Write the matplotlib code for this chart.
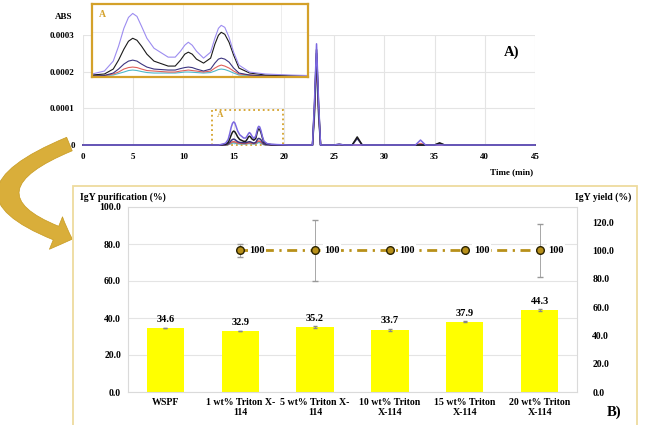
import matplotlib
matplotlib.use("Agg")
import matplotlib.pyplot as plt
from matplotlib.patches import Rectangle, FancyArrowPatch, ArrowStyle
from matplotlib.ticker import FuncFormatter
import numpy as np

plt.rcParams['font.family'] = ['Liberation Serif', 'DejaVu Serif']
plt.rcParams['font.weight'] = 'bold'

# ---- chromatogram data (ABS x 1e-5) ----
time = [0, 13.5, 13.85, 14.2, 14.45, 14.6, 14.75, 14.88, 15.0, 15.12, 15.25, 15.4, 15.6,
        16.0, 16.2, 16.35, 16.47, 16.57, 16.68, 16.8, 17.0, 17.2, 17.32, 17.42, 17.5,
        17.6, 17.72, 17.85, 18.0, 18.3, 18.75, 19.4,
        20.5, 22.85, 23.05, 23.25, 23.45, 23.65, 25.0, 25.5, 26.0, 26.8, 27.3, 27.8,
        33.1, 33.6, 34.1, 35.0, 35.5, 36.0, 45]
abs_purple = [0, 0, 0.2, 0.5, 1.5, 3.0, 4.8, 5.9, 6.3, 6.0, 5.0, 3.8, 2.8,
              1.9, 1.9, 2.5, 3.1, 3.4, 3.1, 2.5, 1.8, 2.4, 3.8, 4.8, 5.1,
              4.9, 3.9, 2.4, 1.1, 0.4, 0.2, 0.1,
              0, 0, 12, 27.6, 12, 0, 0, 0.2, 0, 0, 0, 0,
              0, 1.35, 0, 0, 0, 0, 0]
abs_black = [0, 0, 0.1, 0.2, 0.7, 1.6, 2.7, 3.5, 3.8, 3.6, 3.0, 2.2, 1.5,
             1.0, 1.0, 1.6, 2.2, 2.4, 2.2, 1.7, 1.3, 1.8, 3.2, 4.1, 4.4,
             4.2, 3.4, 2.1, 0.8, 0.3, 0.1, 0.05,
             0, 0, 11, 26, 11, 0, 0, 0.2, 0, 0, 2.2, 0,
             0, 0, 0, 0, 0.6, 0, 0]
abs_navy = [0, 0, 0, 0.05, 0.3, 0.7, 1.2, 1.5, 1.6, 1.5, 1.2, 0.9, 0.7,
            0.6, 0.6, 0.75, 0.85, 0.9, 0.85, 0.7, 0.5, 0.7, 1.3, 1.7, 1.8,
            1.7, 1.4, 0.8, 0.3, 0.1, 0, 0,
            0, 0, 10, 25, 10, 0, 0, 0.1, 0, 0, 1.8, 0,
            0, 0, 0, 0, 0.4, 0, 0]
abs_red = [0, 0, 0, 0.05, 0.2, 0.4, 0.7, 0.85, 0.9, 0.85, 0.7, 0.55, 0.5,
           0.4, 0.4, 0.5, 0.55, 0.6, 0.55, 0.5, 0.4, 0.5, 0.8, 1.0, 1.1,
           1.0, 0.8, 0.5, 0.2, 0.1, 0, 0,
           0, 0, 9, 24, 9, 0, 0, 0.1, 0, 0, 0, 0,
           0, 0.4, 0, 0, 0, 0, 0]
abs_cyan = [0, 0, 0, 0.05, 0.1, 0.25, 0.4, 0.55, 0.6, 0.55, 0.45, 0.35, 0.3,
            0.3, 0.3, 0.35, 0.4, 0.4, 0.38, 0.35, 0.3, 0.35, 0.5, 0.65, 0.7,
            0.65, 0.5, 0.3, 0.1, 0.05, 0, 0,
            0, 0, 8, 23, 8, 0, 0, 0, 0, 0, 0, 0,
            0, 0, 0, 0, 0, 0, 0]

traces = [(abs_cyan, '#4FB8C8'), (abs_red, '#E0605A'), (abs_navy, '#3C3580'),
          (abs_black, '#1A1A1A'), (abs_purple, '#7B68E0')]

# ---- bar / yield data ----
categories = ['WSPF', '1 wt% Triton X-\n114', '5 wt% Triton X-\n114',
              '10 wt% Triton\nX-114', '15 wt% Triton\nX-114', '20 wt% Triton\nX-114']
purification = [34.6, 32.9, 35.2, 33.7, 37.9, 44.3]
purification_err = [0, 0, 0.5, 0.5, 0.3, 0.5]
yield_pct = [100, 100, 100, 100, 100]
yield_err = [4.5, 21.5, 0, 0, 18.5]

W, H = 648, 425
def fx(px):
    return px / W
def fy(py):
    return 1 - py / H

fig = plt.figure(figsize=(6.48, 4.25), dpi=100)
gold = '#D4A12A'

# ---------------- top chromatogram ----------------
ax1 = fig.add_axes([fx(83), fy(145), fx(535) - fx(83), fy(35) - fy(145)])
t = np.array(time)
for vals, col in traces:
    ax1.plot(t, np.array(vals) * 1e-5, color=col, lw=1.1, clip_on=False)
ax1.set_xlim(0, 45)
ax1.set_ylim(0, 0.0003)
ax1.set_xticks(range(0, 46, 5))
ax1.set_yticks([0, 0.0001, 0.0002, 0.0003])
ax1.set_yticklabels(['0', '0.0001', '0.0002', '0.0003'])
ax1.grid(True, color='#E4E4E4', lw=0.8)
ax1.set_axisbelow(True)
for s in ax1.spines.values():
    s.set_visible(False)
ax1.tick_params(length=0, labelsize=6.5, pad=6)
ax1.add_patch(Rectangle((12.85, 0), 7.05, 0.0000945, fill=False, ec=gold,
                        ls=':', lw=1.3, clip_on=False))
ax1.text(13.3, 0.000083, 'A', color=gold, fontsize=6.5, va='center')
fig.text(fx(55), fy(17), 'ABS', fontsize=6.5, va='center')
fig.text(fx(512), fy(172), 'Time (min)', fontsize=6.5, va='center', ha='center')
fig.text(fx(504), fy(52), 'A)', fontsize=10.5, va='center')

# inset
axi = fig.add_axes([fx(92), fy(77), fx(308) - fx(92), fy(4) - fy(77)])
for vals, col in traces:
    c = '#9C8CF0' if col == '#7B68E0' else col
    axi.plot(t, np.array(vals) * 1e-5, color=c, lw=0.8)
axi.set_xlim(13.85, 19.95)
axi.set_ylim(-0.000001, 0.0000725)
axi.set_xticks([16.43, 17.81, 19.2])
axi.set_yticks([0.000044])
axi.grid(True, color='#EDEDED', lw=0.7)
axi.set_axisbelow(True)
axi.tick_params(length=0, labelbottom=False, labelleft=False)
for s in axi.spines.values():
    s.set_color(gold)
    s.set_linewidth(1.6)
axi.text(0.03, 0.85, 'A', color=gold, fontsize=7, transform=axi.transAxes, va='center')

# ---------------- curved arrow ----------------
arrow = FancyArrowPatch((fx(72), fy(143)), (fx(75), fy(240)),
                        connectionstyle='arc3,rad=1.35',
                        arrowstyle=ArrowStyle.Simple(head_length=0.9, head_width=1.8, tail_width=0.75),
                        mutation_scale=14, fc='#D9AE3A', ec='#C79A20', lw=0.5,
                        transform=fig.transFigure)
fig.add_artist(arrow)

# ---------------- bottom panel ----------------
fig.add_artist(Rectangle((fx(73), fy(440)), fx(637) - fx(73), fy(186) - fy(440),
                         fill=False, ec='#EEDB9E', lw=1.3, transform=fig.transFigure,
                         clip_on=False))

ax2 = fig.add_axes([fx(128), fy(392), fx(577) - fx(128), fy(207) - fy(392)])
x = np.arange(len(categories))
ax2.bar(x, purification, width=0.5, color='#FFFF00', zorder=2,
        yerr=purification_err, error_kw=dict(ecolor='#888888', lw=0.6, capsize=1.5))
for xi, v in zip(x, purification):
    ax2.text(xi, v + 2.3, f'{v:.1f}', ha='center', va='bottom', fontsize=7.5)
ax2.set_xlim(-0.5, len(categories) - 0.5)
ax2.set_ylim(0, 100)
ax2.set_yticks(range(0, 101, 20))
ax2.yaxis.set_major_formatter(FuncFormatter(lambda v, p: f'{v:.1f}'))
ax2.set_xticks(x)
ax2.set_xticklabels(categories, linespacing=1.15)
ax2.grid(True, axis='y', color='#E4E4E4', lw=0.8)
ax2.set_axisbelow(True)
ax2.tick_params(length=0, labelsize=7, pad=5)
ax2.tick_params(axis='x', labelsize=7.1, pad=4)
for s in ax2.spines.values():
    s.set_color('#DADADA')

ax3 = ax2.twinx()
xy = x[1:]
ax3.errorbar(xy, yield_pct, yerr=yield_err, fmt='none', ecolor='#999999', lw=0.6,
             capsize=2, zorder=3)
ax3.plot(xy, yield_pct, color='#B8901A', lw=2.0, dashes=[3.6, 2.0, 0.8, 2.0],
         marker='o', ms=5.5, mfc='#B8901A', mec='#2A2200', mew=1.0, zorder=4)
for xi, v in zip(xy, yield_pct):
    ax3.text(xi + 0.12, v, f'{v}', ha='left', va='center', fontsize=7.5, zorder=5,
             bbox=dict(fc='white', ec='none', pad=1.0))
ax3.set_ylim(0, 130.6)
ax3.set_yticks(range(0, 121, 20))
ax3.yaxis.set_major_formatter(FuncFormatter(lambda v, p: f'{v:.1f}'))
ax3.tick_params(length=0, labelsize=7, pad=11)
for s in ax3.spines.values():
    s.set_visible(False)

fig.text(fx(80), fy(197), 'IgY purification (%)', fontsize=7, va='center')
fig.text(fx(631), fy(197), 'IgY yield (%)', fontsize=7, va='center', ha='right')
fig.text(fx(607), fy(412), 'B)', fontsize=10.5, va='center')

fig.savefig('out.png', dpi=100)
